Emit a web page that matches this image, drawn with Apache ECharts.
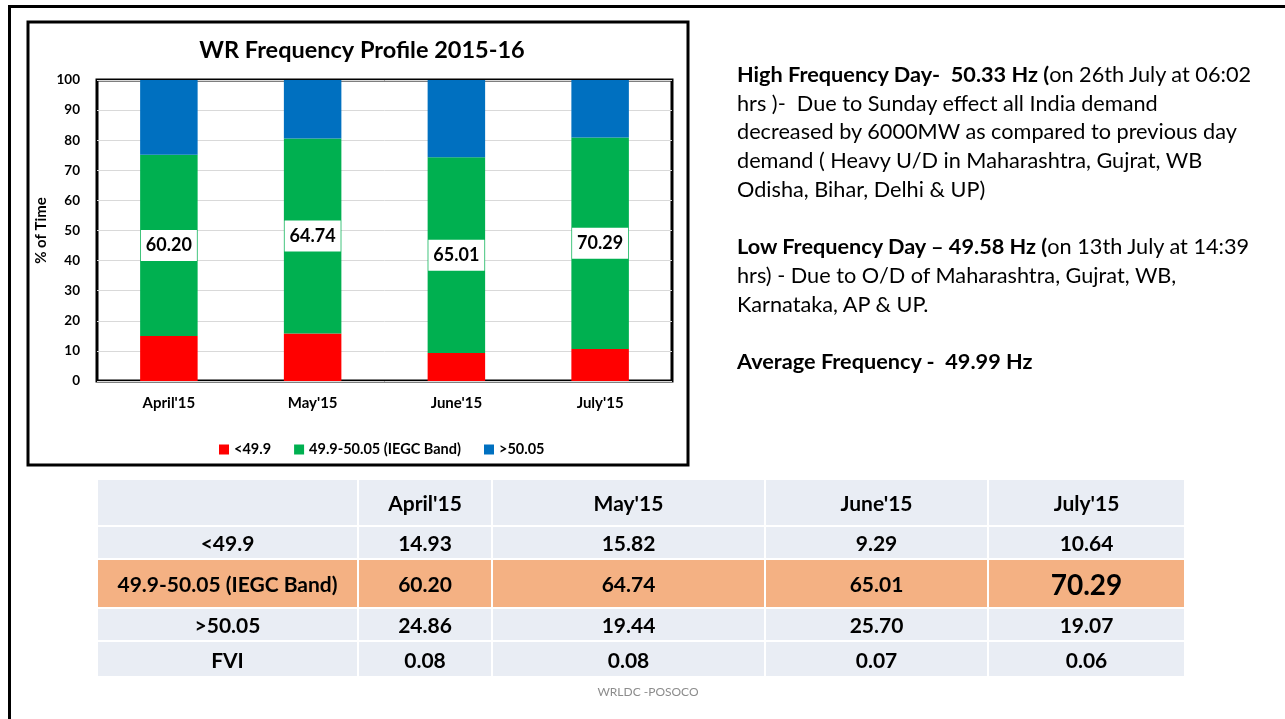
<!DOCTYPE html>
<html>
<head>
<meta charset="utf-8">
<script src="https://cdn.jsdelivr.net/npm/echarts@6/dist/echarts.min.js"></script>
<style>
  html, body { margin: 0; padding: 0; background: #fff; }
  body { width: 1285px; height: 719px; position: relative; overflow: hidden; font-family: Lato, "Noto Sans", sans-serif; }
  #chart { position: absolute; left: 0; top: 0; width: 1285px; height: 719px; }
  #frame { position: absolute; left: 8px; top: 5px; width: 1290px; height: 730px; border-top: 3px solid #000; border-left: 3px solid #000; box-sizing: border-box; pointer-events: none; }
  #notes { position: absolute; left: 737px; top: 60px; font-size: 21.7px; line-height: 28.7px; color: #000; white-space: pre; }
  #notes b { font-weight: 700; }
  #tbl { position: absolute; left: 96px; top: 478px; border-collapse: collapse; table-layout: fixed; }
  #tbl td { background: #E9EDF4; border: 2px solid #fff; text-align: center; font-weight: 700; font-size: 21px; color: #000; padding: 0; }
  #tbl tr.hl td { background: #F4B183; }
  #footer { position: absolute; left: 648px; top: 684px; transform: translateX(-50%); font-size: 12px; color: #8c8c8c; }
</style>
</head>
<body>
<div id="chart"></div>
<div id="frame"></div>
<div id="notes"><b>High Frequency Day-  50.33 Hz (</b>on 26th July at 06:02
hrs )-  Due to Sunday effect all India demand
decreased by 6000MW as compared to previous day
demand ( Heavy U/D in Maharashtra, Gujrat, WB
Odisha, Bihar, Delhi &amp; UP)

<b>Low Frequency Day – 49.58 Hz (</b>on 13th July at 14:39
hrs) - Due to O/D of Maharashtra, Gujrat, WB,
Karnataka, AP &amp; UP.

<b>Average Frequency -  49.99 Hz</b></div>
<table id="tbl"></table>
<div id="footer">WRLDC -POSOCO</div>
<script>
// ---- data ----
const categories = ["April'15", "May'15", "June'15", "July'15"];
const seriesNames = ["<49.9", "49.9-50.05 (IEGC Band)", ">50.05"];
const below = [14.93, 15.82, 9.29, 10.64];
const band = [60.20, 64.74, 65.01, 70.29];
const above = [24.86, 19.44, 25.70, 19.07];
const fvi = [0.08, 0.08, 0.07, 0.06];
const rowLabels = ["<49.9", "49.9-50.05 (IEGC Band)", ">50.05", "FVI"];
const yTicks = [0, 10, 20, 30, 40, 50, 60, 70, 80, 90, 100];

// ---- table ----
(function () {
  const colW = [261, 134, 273, 223, 197];
  const rowH = [47, 33, 49, 33, 36];
  const tbl = document.getElementById('tbl');
  const cg = document.createElement('colgroup');
  colW.forEach(w => { const c = document.createElement('col'); c.style.width = w + 'px'; cg.appendChild(c); });
  tbl.appendChild(cg);
  tbl.style.width = colW.reduce((a, b) => a + b, 0) + 'px';
  const rows = [[''].concat(categories)];
  const dataRows = [below, band, above, fvi];
  dataRows.forEach((arr, i) => rows.push([rowLabels[i]].concat(arr.map(v => v.toFixed(2)))));
  rows.forEach((r, ri) => {
    const tr = document.createElement('tr');
    if (ri === 2) tr.className = 'hl';
    tr.style.height = rowH[ri] + 'px';
    r.forEach((txt, ci) => {
      const td = document.createElement('td');
      td.textContent = txt;
      if (ri === 2 && ci === 4) td.style.fontSize = '28px';
      tr.appendChild(td);
    });
    tbl.appendChild(tr);
  });
})();

// ---- chart ----
const chart = echarts.init(document.getElementById('chart'), null, { renderer: 'canvas' });
const font = 'Lato, "Noto Sans", sans-serif';
const colors = ['#FF0000', '#00B050', '#0070C0'];
const values = [below, band, above];
chart.setOption({
  animation: false,
  textStyle: { fontFamily: font },
  title: {
    text: 'WR Frequency Profile 2015-16',
    left: 357, top: 33, textAlign: 'center',
    textStyle: { fontFamily: font, fontSize: 23.5, fontWeight: 'bold', color: '#000' }
  },
  graphic: [{
    type: 'rect', shape: { x: 28, y: 22, width: 660, height: 443 },
    style: { fill: 'none', stroke: '#000', lineWidth: 3 }, z: 0
  }],
  legend: {
    data: seriesNames, left: 214, top: 437, icon: 'rect', itemWidth: 10, itemHeight: 10, itemGap: 23,
    textStyle: { fontFamily: font, fontSize: 14.5, fontWeight: 'bold', color: '#000' }
  },
  grid: {
    left: 97, top: 80, right: 1285 - 672, bottom: 719 - 381,
    show: true, borderColor: '#000', borderWidth: 3, containLabel: false
  },
  xAxis: {
    type: 'category', data: categories,
    axisLine: { show: false }, axisTick: { show: false },
    axisLabel: { margin: 15, fontFamily: font, fontSize: 15, fontWeight: 'bold', color: '#000' }
  },
  yAxis: {
    type: 'value', min: yTicks[0], max: yTicks[yTicks.length - 1], interval: 10,
    name: '% of Time', nameLocation: 'middle', nameGap: 48, nameRotate: 90,
    nameTextStyle: { fontFamily: font, fontSize: 15, fontWeight: 'bold', color: '#000' },
    axisLine: { show: false }, axisTick: { show: false },
    axisLabel: { margin: 17, fontFamily: font, fontSize: 13.5, fontWeight: 'bold', color: '#000' },
    splitLine: { lineStyle: { color: '#D9D9D9', width: 1 } }
  },
  series: seriesNames.map((name, i) => ({
    name, type: 'bar', stack: 'total', barWidth: '40%', data: values[i],
    itemStyle: { color: colors[i] },
    label: i === 1 ? {
      show: true, position: 'inside',
      formatter: p => p.value.toFixed(2),
      backgroundColor: '#fff', padding: [7, 5, 6, 5],
      fontFamily: font, fontSize: 18, fontWeight: 'bold', color: '#000'
    } : { show: false }
  }))
});
</script>
</body>
</html>
